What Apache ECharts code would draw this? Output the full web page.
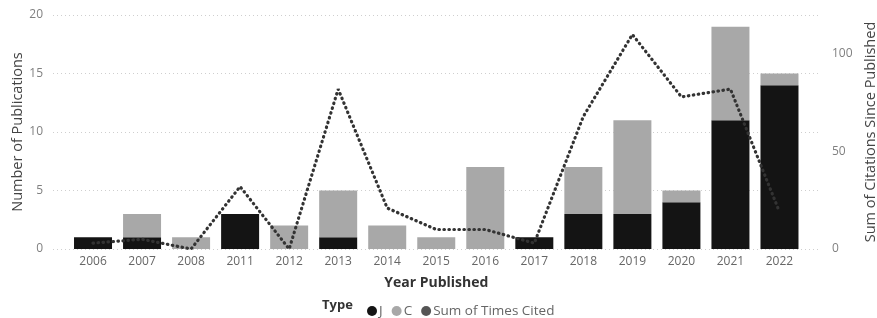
<!DOCTYPE html>
<html><head><meta charset="utf-8">
<script src="https://cdn.jsdelivr.net/npm/echarts@6/dist/echarts.min.js"></script>
<style>html,body{margin:0;padding:0;background:#fff}#c{width:877px;height:318px}</style>
</head><body><div id="c"></div>
<script>
const years = ['2006','2007','2008','2011','2012','2013','2014','2015','2016','2017','2018','2019','2020','2021','2022'];
const typeJ = [1,1,0,3,0,1,0,0,0,1,3,3,4,11,14];
const typeC = [0,2,1,0,2,4,2,1,7,0,4,8,1,8,1];
const timesCited = [3,5,0,32,0,82,21,10,10,3,68,110,78,82,19];
const leftTicks = [0,5,10,15,20];
const rightTicks = [0,50,100];

const FONT = '"Open Sans", "Noto Sans", sans-serif';
const chart = echarts.init(document.getElementById('c'), null, {renderer:'canvas'});
chart.setOption({
  animation:false,
  textStyle:{fontFamily:FONT},
  grid:[
    {left:53, right:59, top:15, bottom:69, outerBoundsMode:'none', containLabel:false},
    {left:68.5, right:73, top:15, bottom:69, outerBoundsMode:'none', containLabel:false}
  ],
  xAxis:[
    {gridIndex:0, type:'value', show:false, min:0, max:1},
    {gridIndex:1, type:'category', data:years,
     axisLine:{show:false}, axisTick:{show:false},
     axisLabel:{color:'#666', fontSize:12, margin:7, fontFamily:FONT},
     name:'Year Published', nameLocation:'middle', nameGap:27,
     nameTextStyle:{color:'#333', fontSize:14, fontWeight:'bold', fontFamily:FONT}}
  ],
  yAxis:[
    {gridIndex:0, type:'value', min:leftTicks[0], max:leftTicks[leftTicks.length-1], interval:5,
     axisLine:{show:false}, axisTick:{show:false},
     splitLine:{show:true, lineStyle:{color:'#cfcfcf', type:[1,3], width:1}},
     axisLabel:{color:'#808080', fontSize:12, margin:10, fontFamily:FONT},
     name:'Number of Publications', nameLocation:'middle', nameGap:28, nameMoveOverlap:false,
     nameTextStyle:{color:'#444', fontSize:14.5, fontFamily:FONT}},
    {gridIndex:0, type:'value', position:'right', min:0, max:120, interval:50,
     axisLine:{show:false}, axisTick:{show:false}, splitLine:{show:false},
     axisLabel:{color:'#808080', fontSize:12, margin:14, showMaxLabel:false, fontFamily:FONT,
       formatter:v => rightTicks.indexOf(v) >= 0 ? String(v) : ''},
     name:'Sum of Citations Since Published', nameLocation:'middle', nameGap:45, nameRotate:90,
     nameTextStyle:{color:'#444', fontSize:14.5, fontFamily:FONT}},
    {gridIndex:1, type:'value', min:0, max:20, show:false},
    {gridIndex:1, type:'value', min:0, max:120, show:false}
  ],
  legend:{
    left:362, top:299, itemWidth:10, itemHeight:10, itemGap:9, icon:'circle',
    textStyle:{color:'#666', fontSize:13.5, padding:[0,0,0,-3], fontFamily:FONT},
    data:['J','C','Sum of Times Cited']
  },
  graphic:[{type:'text', left:322, top:299,
    style:{text:'Type', fontSize:13, fontWeight:'bold', fill:'#333', fontFamily:FONT}}],
  series:[
    {name:'J', type:'bar', stack:'t', xAxisIndex:1, yAxisIndex:2, data:typeJ,
     barWidth:38, itemStyle:{color:'#141414'}},
    {name:'C', type:'bar', stack:'t', xAxisIndex:1, yAxisIndex:2, data:typeC,
     barWidth:38, itemStyle:{color:'#a8a8a8'}},
    {name:'Sum of Times Cited', type:'line', xAxisIndex:1, yAxisIndex:3, data:timesCited,
     symbol:'none', z:5, itemStyle:{color:'#555'},
     lineStyle:{color:'#333', width:3.2, type:[0.5,4.5], cap:'round'}}
  ]
});
</script></body></html>
